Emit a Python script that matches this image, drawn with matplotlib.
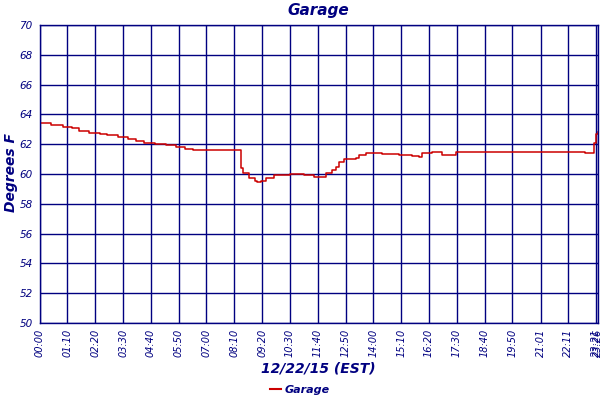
import matplotlib
matplotlib.use("Agg")
import matplotlib.pyplot as plt
from matplotlib.lines import Line2D

# minutes since midnight
minutes = [0, 29, 59, 82, 99, 124, 152, 170, 197, 222, 242, 262, 290, 318,
           343, 365, 385, 415, 473, 506, 508, 513, 528, 541, 548, 558, 571,
           591, 629, 666, 691, 709, 722, 736, 747, 754, 767, 797, 804, 822,
           862, 905, 937, 955, 962, 987, 997, 1012, 1043, 1048, 1156, 1281,
           1374, 1394, 1396, 1401, 1406]
temps = [63.4, 63.3, 63.15, 63.06, 62.9, 62.78, 62.7, 62.6, 62.46, 62.37,
         62.24, 62.1, 62.03, 61.94, 61.83, 61.7, 61.6, 61.58, 61.6, 61.6,
         60.4, 60.08, 59.7, 59.55, 59.47, 59.55, 59.74, 59.95, 59.97, 59.92,
         59.8, 59.79, 60.05, 60.25, 60.5, 60.8, 61.04, 61.09, 61.25, 61.38,
         61.33, 61.27, 61.18, 61.16, 61.43, 61.46, 61.5, 61.27, 61.27, 61.49,
         61.47, 61.45, 61.38, 61.38, 62.1, 62.7, 62.8]

tick_minutes = [0, 70, 140, 210, 280, 350, 420, 490, 560, 630, 700, 770,
                840, 910, 980, 1050, 1120, 1190, 1261, 1331, 1401, 1406]
tick_labels = ["00:00", "01:10", "02:20", "03:30", "04:40", "05:50", "07:00",
               "08:10", "09:20", "10:30", "11:40", "12:50", "14:00", "15:10",
               "16:20", "17:30", "18:40", "19:50", "21:01", "22:11", "23:21",
               "23:26"]
y_ticks = list(range(50, 71, 2))

NAVY = "#000080"
RED = "#cc0000"

fig = plt.figure(figsize=(6, 4), dpi=100)
ax = fig.add_axes([0.066, 0.1925, 0.931, 0.745])

ax.plot(minutes, temps, color=RED, linewidth=1.1, drawstyle="steps-post")
ax.set_xlim(0, 1406)
ax.set_ylim(50, 70)

ax.set_xticks(tick_minutes)
ax.set_xticklabels(tick_labels, rotation=90, fontsize=7.8, style="italic",
                   color=NAVY, fontstretch="condensed")
ax.set_yticks(y_ticks)
ax.set_yticklabels([str(v) for v in y_ticks], fontsize=7.5, style="italic",
                   color=NAVY)
ax.tick_params(axis="x", length=0, pad=4)
ax.tick_params(axis="y", length=0, pad=5)

ax.grid(True, color=NAVY, linewidth=1.0)
ax.set_axisbelow(True)
for s in ax.spines.values():
    s.set_color(NAVY)
    s.set_linewidth(1.0)

fig.text(0.53, 0.975, "Garage", ha="center", va="center", fontsize=11,
         weight="bold", style="italic", color=NAVY)
fig.text(0.53, 0.08, "12/22/15 (EST)", ha="center", va="center",
         fontsize=10, weight="bold", style="italic", color=NAVY)
fig.text(0.018, 0.57, "Degrees F", ha="center", va="center", rotation=90,
         fontsize=10, weight="bold", style="italic", color=NAVY)

handle = Line2D([], [], color=RED, linewidth=1.5)
fig.legend([handle], ["Garage"], loc="center", bbox_to_anchor=(0.5, 0.025),
           frameon=False, handlelength=1.0, handletextpad=0.3,
           prop={"weight": "bold", "style": "italic", "size": 8},
           labelcolor=NAVY)

fig.savefig("out.png", dpi=100)
